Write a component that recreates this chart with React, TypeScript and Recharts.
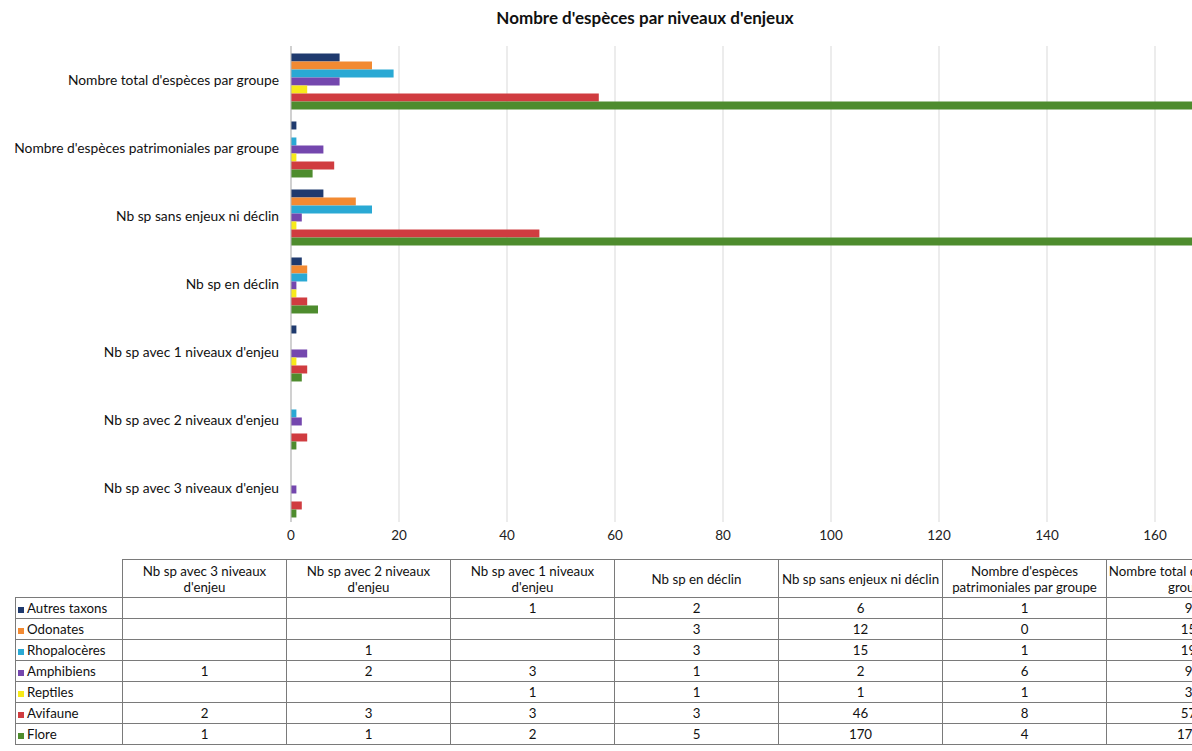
import { Bar, BarChart, CartesianGrid, XAxis, YAxis } from "recharts";

const categories = [
  "Nb sp avec 3 niveaux d'enjeu",
  "Nb sp avec 2 niveaux d'enjeu",
  "Nb sp avec 1 niveaux d'enjeu",
  "Nb sp en déclin",
  "Nb sp sans enjeux ni déclin",
  "Nombre d'espèces patrimoniales par groupe",
  "Nombre total d'espèces par groupe",
];

const autresTaxons = [null, null, 1, 2, 6, 1, 9];
const odonates = [null, null, null, 3, 12, 0, 15];
const rhopaloceres = [null, 1, null, 3, 15, 1, 19];
const amphibiens = [1, 2, 3, 1, 2, 6, 9];
const reptiles = [null, null, 1, 1, 1, 1, 3];
const avifaune = [2, 3, 3, 3, 46, 8, 57];
const flore = [1, 1, 2, 5, 170, 4, 179];

const xTicks = [0, 20, 40, 60, 80, 100, 120, 140, 160, 180];

const series = [
  { key: "autres", name: "Autres taxons", values: autresTaxons, color: "#1f3a6e" },
  { key: "odonates", name: "Odonates", values: odonates, color: "#f28a32" },
  { key: "rhopa", name: "Rhopalocères", values: rhopaloceres, color: "#2aa9d4" },
  { key: "amphi", name: "Amphibiens", values: amphibiens, color: "#7447ae" },
  { key: "reptiles", name: "Reptiles", values: reptiles, color: "#f7ea1a" },
  { key: "avifaune", name: "Avifaune", values: avifaune, color: "#d03c40" },
  { key: "flore", name: "Flore", values: flore, color: "#4e8c2e" },
];

const data = categories.map((cat, i) => {
  const row: Record<string, string | number | null> = { cat };
  series.forEach((s) => (row[s.key] = s.values[i]));
  return row;
});

// table headers wrap like the Excel data table
const headers = [
  "Nb sp avec 3 niveaux d'enjeu",
  "Nb sp avec 2 niveaux d'enjeu",
  "Nb sp avec 1 niveaux d'enjeu",
  "Nb sp en déclin",
  "Nb sp sans enjeux ni déclin",
  "Nombre d'espèces patrimoniales par groupe",
  "Nombre total d'espèces par groupe",
];

const FONT = "Lato, 'Liberation Sans', sans-serif";
const cellBorder = "1.5px solid #7a7a7a";

export default function App() {
  return (
    <div style={{ position: "fixed", left: 0, top: 0, width: 1192, height: 751, overflow: "hidden", background: "#fff", fontFamily: FONT }}>
      <div style={{ position: "absolute", left: 0, top: 0, width: 1290 }}>
        <div style={{ position: "absolute", left: 0, top: 8, width: 1290, textAlign: "center", fontWeight: 700, fontSize: 17, lineHeight: "20px", color: "#111" }}>
          Nombre d'espèces par niveaux d'enjeux
        </div>
        <BarChart width={1290} height={552} data={data} layout="vertical" margin={{ top: 46, right: 27, left: 0, bottom: 0 }} barCategoryGap="11%" barGap={0}>
          <CartesianGrid horizontal={false} stroke="#d9d9d9" />
          <XAxis type="number" domain={[0, 180]} ticks={xTicks} axisLine={false} tickLine={false} tick={{ fill: "#222", fontSize: 13.5, fontFamily: FONT }} />
          <YAxis type="category" dataKey="cat" reversed width={291} axisLine={{ stroke: "#b5b5b5" }} tickLine={false} tickMargin={6} tick={{ fill: "#111", fontSize: 13.8, fontFamily: FONT }} interval={0} />
          {series.map((s) => (
            <Bar key={s.key} dataKey={s.key} name={s.name} fill={s.color} isAnimationActive={false} />
          ))}
        </BarChart>
      </div>
      <table style={{ position: "absolute", left: 15, top: 559, borderCollapse: "collapse", tableLayout: "fixed", width: 1256, fontSize: 13.3, color: "#111", fontFamily: FONT }}>
        <colgroup>
          <col style={{ width: 107 }} />
          {headers.map((h) => (
            <col key={h} style={{ width: 164 }} />
          ))}
        </colgroup>
        <thead>
          <tr style={{ height: 38 }}>
            <th style={{ border: "none" }} />
            {headers.map((h) => (
              <th key={h} style={{ border: cellBorder, fontWeight: 400, lineHeight: "16px", padding: "0 1px", textAlign: "center", whiteSpace: h === "Nb sp sans enjeux ni déclin" ? "nowrap" : "normal" }}>
                {h}
              </th>
            ))}
          </tr>
        </thead>
        <tbody>
          {series.map((s) => (
            <tr key={s.key} style={{ height: 21 }}>
              <td style={{ border: cellBorder, padding: "0 2px", whiteSpace: "nowrap", lineHeight: "16px" }}>
                <span style={{ display: "inline-block", width: 6, height: 6, background: s.color, marginRight: 3, verticalAlign: "middle" }} />
                {s.name}
              </td>
              {s.values.map((v, i) => (
                <td key={i} style={{ border: cellBorder, textAlign: "center", padding: 0, lineHeight: "16px" }}>
                  {v === null ? "" : v}
                </td>
              ))}
            </tr>
          ))}
        </tbody>
      </table>
    </div>
  );
}
